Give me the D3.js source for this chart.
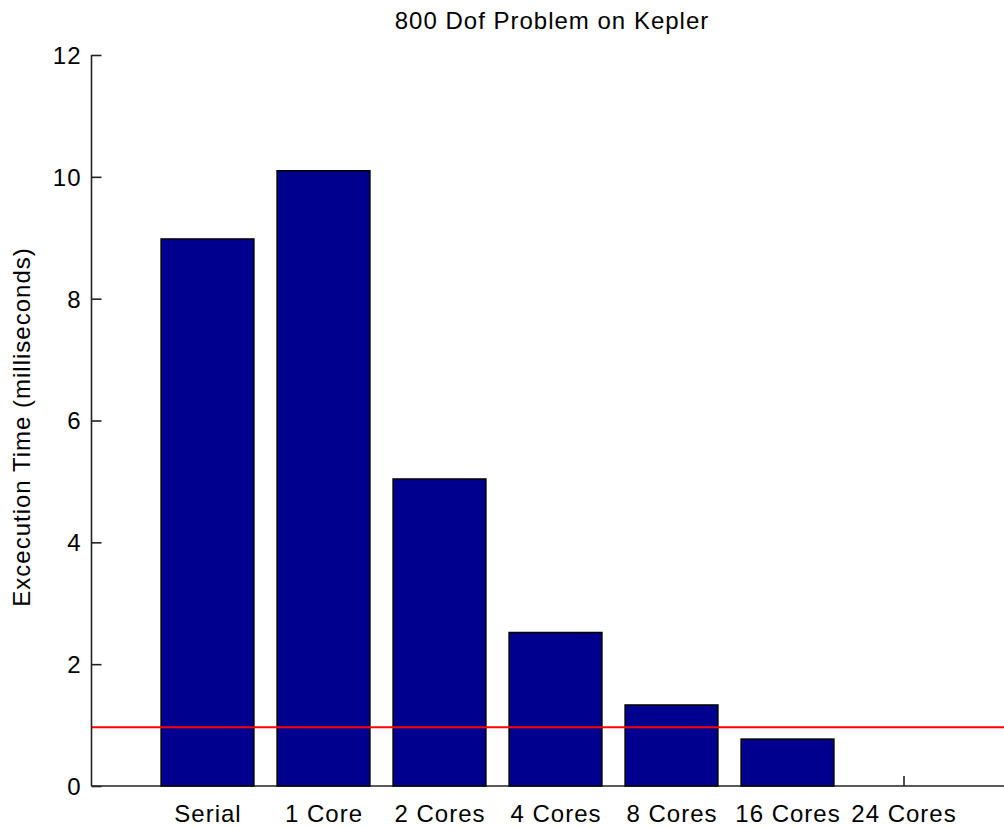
<!DOCTYPE html>
<html>
<head>
<meta charset="utf-8">
<script src="https://cdn.jsdelivr.net/npm/d3@7"></script>
<style>
  html, body { margin: 0; padding: 0; background: #fff; }
  svg text { font-family: "Liberation Sans", Arial, Helvetica, sans-serif; fill: #000; }
</style>
</head>
<body>
<svg id="chart" width="1004" height="827"></svg>
<script>
// Execution time per configuration (milliseconds)
const categories = ["Serial", "1 Core", "2 Cores", "4 Cores", "8 Cores", "16 Cores", "24 Cores"];
const times = [8.98, 10.1, 5.04, 2.52, 1.33, 0.77, 0];
const yTicks = [0, 2, 4, 6, 8, 10, 12];
const referenceTime = 0.965;
const titleText = "800 Dof Problem on Kepler";
const yLabelText = "Excecution Time (milliseconds)";

const svg = d3.select("#chart");
const W = 1004, H = 827;
const plotLeft = 91.5, plotTop = 55, plotBottom = 786;

// bar positions 1..n on a [0, n+1] axis, one slot = 116 px
const slot = 116;
const x = d3.scaleLinear().domain([0, categories.length + 1]).range([plotLeft, plotLeft + slot * (categories.length + 1)]);
const y = d3.scaleLinear().domain([0, 12]).range([plotBottom, plotTop]);
const barWidth = 0.8;

// x axis first so the bars cover its inward ticks
const xAxis = d3.axisTop(x)
  .tickValues(d3.range(1, categories.length + 1))
  .tickSize(10)
  .tickFormat(d => categories[d - 1]);
const xg = svg.append("g").attr("transform", `translate(0,${plotBottom})`).call(xAxis);
xg.select(".domain").attr("d", `M${plotLeft},0H${W + 20}`).attr("stroke", "#222").attr("stroke-width", 1.6);
xg.selectAll(".tick line").attr("stroke", "#222").attr("stroke-width", 1.6);
xg.selectAll(".tick text")
  .attr("y", 36).attr("dy", 0)
  .attr("text-anchor", "middle")
  .style("font-size", "24px")
  .style("letter-spacing", "1px");

// bars
svg.append("g").selectAll("rect.bar")
  .data(times)
  .join("rect")
  .attr("class", "bar")
  .attr("x", (d, i) => x(i + 1 - barWidth / 2))
  .attr("width", x(barWidth) - x(0))
  .attr("y", d => y(d))
  .attr("height", d => y(0) - y(d))
  .attr("fill", "#00008f")
  .attr("stroke", "#000")
  .attr("stroke-width", 1.5)
  .style("display", d => d > 0 ? null : "none");

// reference line
svg.append("line")
  .attr("x1", plotLeft).attr("x2", W)
  .attr("y1", y(referenceTime)).attr("y2", y(referenceTime))
  .attr("stroke", "#ff0000")
  .attr("stroke-width", 2);

// y axis (ticks pointing inward)
const yAxis = d3.axisRight(y).tickValues(yTicks).tickSize(10).tickFormat(d3.format("d"));
const yg = svg.append("g").attr("transform", `translate(${plotLeft},0)`).call(yAxis);
yg.select(".domain").attr("d", `M0,${plotTop}V${plotBottom}`).attr("stroke", "#222").attr("stroke-width", 1.6);
yg.selectAll(".tick line").attr("stroke", "#222").attr("stroke-width", 1.6);
yg.selectAll(".tick text")
  .attr("x", -10).attr("dy", "0.35em")
  .attr("text-anchor", "end")
  .style("font-size", "24px")
  .style("letter-spacing", "1px");

// title
svg.append("text")
  .attr("x", 552).attr("y", 29)
  .attr("text-anchor", "middle")
  .style("font-size", "24px")
  .style("letter-spacing", "1px")
  .text(titleText);

// y label
svg.append("text")
  .attr("transform", `translate(30,427) rotate(-90)`)
  .attr("text-anchor", "middle")
  .style("font-size", "24px")
  .style("letter-spacing", "1px")
  .text(yLabelText);
</script>
</body>
</html>
